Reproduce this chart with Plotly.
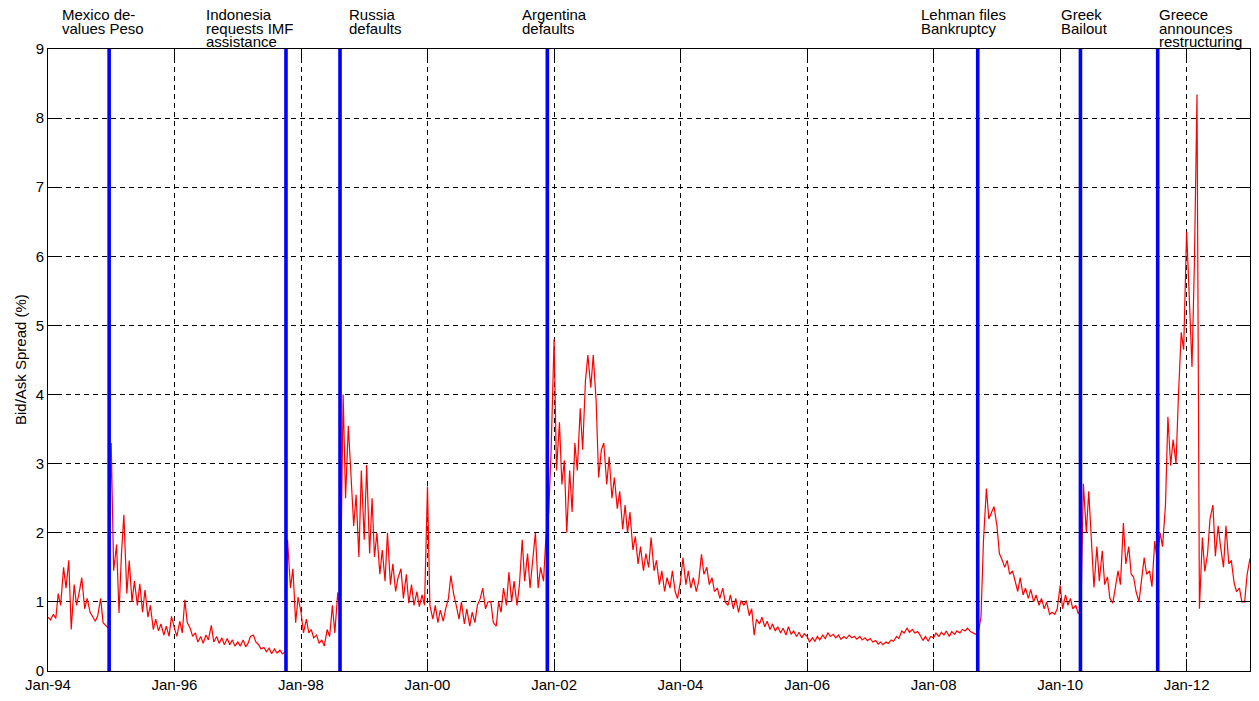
import pandas as pd
import plotly.graph_objects as go

# ---------------- data (semi-monthly readings: 1st and 15th of each month) ----------------
v1994 = [0.78, 0.74, 0.82, 0.76, 1.12, 0.95, 1.5, 1.2, 1.6, 0.6, 1.25, 0.95,
         1.15, 1.35, 0.9, 1.05, 0.85, 0.78, 0.72, 0.8, 1.05, 0.7, 0.65, 0.62]
v1995 = [3.3, 1.45, 1.83, 0.84, 1.69, 2.26, 1.12, 1.6, 1.0, 1.3, 0.95, 1.26,
         0.85, 1.17, 0.78, 0.95, 0.6, 0.75, 0.58, 0.68, 0.52, 0.65, 0.5, 0.79]
v1996 = [0.62, 0.5, 0.72, 0.55, 1.03, 0.7, 0.62, 0.5, 0.55, 0.42, 0.5, 0.4,
         0.52, 0.45, 0.66, 0.42, 0.5, 0.4, 0.48, 0.38, 0.47, 0.38, 0.45, 0.36]
v1997 = [0.42, 0.36, 0.45, 0.35, 0.4, 0.5, 0.52, 0.42, 0.38, 0.32, 0.34, 0.28,
         0.33, 0.25, 0.32, 0.26, 0.3, 0.25, 0.27, 1.9, 1.2, 1.48, 0.7, 1.07]
v1998 = [0.85, 0.55, 0.75, 0.55, 0.6, 0.48, 0.52, 0.4, 0.45, 0.36, 0.6, 0.5,
         0.95, 0.55, 1.14, 0.8, 4.0, 2.5, 3.55, 2.9, 2.1, 2.55, 1.65, 2.9]
v1999 = [1.9, 2.98, 1.7, 2.5, 1.65, 2.0, 1.4, 1.75, 1.3, 2.0, 1.25, 1.55,
         1.15, 1.35, 1.48, 1.05, 1.4, 0.98, 1.25, 0.95, 1.15, 0.93, 1.1, 0.95]
v2000 = [2.67, 0.95, 0.75, 0.95, 0.7, 0.88, 0.72, 0.9, 1.05, 1.38, 1.1, 0.95,
         0.75, 1.0, 0.68, 0.9, 0.65, 0.85, 0.7, 0.95, 1.05, 1.2, 0.9, 1.0]
v2001 = [1.0, 0.7, 0.65, 1.0, 0.85, 1.2, 0.95, 1.43, 1.0, 1.3, 0.95, 1.25,
         1.9, 1.3, 1.7, 1.2, 1.6, 2.0, 1.2, 1.5, 1.3, 1.95, 2.3, 3.2]
v2002 = [4.8, 2.9, 3.6, 2.7, 3.05, 2.0, 2.9, 2.3, 3.3, 2.9, 3.8, 3.2,
         4.2, 4.57, 4.1, 4.57, 3.9, 2.8, 3.2, 3.3, 2.7, 3.1, 2.5, 2.8]
v2003 = [2.35, 2.6, 2.05, 2.4, 2.0, 2.3, 1.75, 1.95, 1.55, 1.8, 1.45, 1.7,
         1.5, 1.93, 1.45, 1.6, 1.25, 1.45, 1.15, 1.35, 1.2, 1.45, 1.15, 1.05]
v2004 = [1.3, 1.64, 1.25, 1.45, 1.2, 1.35, 1.15, 1.3, 1.69, 1.4, 1.5, 1.25,
         1.35, 1.15, 1.2, 1.05, 1.2, 1.0, 0.95, 1.1, 0.9, 1.05, 0.85, 1.02]
v2005 = [0.95, 1.02, 0.8, 0.9, 0.52, 0.75, 0.68, 0.78, 0.64, 0.72, 0.6, 0.68,
         0.58, 0.64, 0.55, 0.62, 0.52, 0.64, 0.53, 0.58, 0.5, 0.56, 0.48, 0.54]
v2006 = [0.5, 0.42, 0.48, 0.43, 0.5, 0.45, 0.52, 0.47, 0.55, 0.5, 0.53, 0.48,
         0.52, 0.46, 0.5, 0.47, 0.52, 0.48, 0.5, 0.46, 0.5, 0.45, 0.48, 0.44]
v2007 = [0.47, 0.42, 0.44, 0.39, 0.42, 0.38, 0.42, 0.4, 0.45, 0.43, 0.5, 0.47,
         0.58, 0.55, 0.62, 0.56, 0.6, 0.55, 0.57, 0.52, 0.44, 0.5, 0.43, 0.5]
v2008 = [0.48, 0.55, 0.5, 0.56, 0.52, 0.58, 0.5, 0.57, 0.53, 0.58, 0.55, 0.6,
         0.58, 0.62, 0.57, 0.55, 0.53, 0.55, 0.79, 1.88, 2.64, 2.2, 2.3, 2.38]
v2009 = [2.1, 1.7, 1.6, 1.5, 1.6, 1.4, 1.45, 1.3, 1.15, 1.35, 1.1, 1.2,
         1.05, 1.18, 1.0, 1.1, 0.95, 1.05, 0.9, 1.0, 0.82, 0.85, 0.82, 0.9]
v2010 = [1.24, 0.9, 1.1, 0.95, 1.05, 0.9, 0.95, 0.83, 0.9, 2.71, 2.0, 2.6,
         1.75, 1.21, 1.8, 1.3, 1.74, 1.25, 1.36, 1.05, 0.98, 1.2, 1.45, 1.25]
v2011 = [2.14, 1.55, 1.8, 1.4, 1.36, 1.15, 1.0, 1.3, 1.64, 1.4, 1.45, 1.22,
         1.88, 1.6, 2.0, 1.8, 2.4, 3.68, 2.97, 3.35, 3.0, 4.0, 4.9, 4.65]
v2012 = [6.36, 5.5, 4.4, 5.9, 8.34, 0.9, 1.93, 1.44, 1.7, 2.2, 2.4, 1.66,
         2.1, 1.8, 1.5, 2.1, 1.55, 1.6, 1.28, 1.15, 1.2, 1.0, 1.0, 1.39]
v2013 = [1.63]

spread = (v1994 + v1995 + v1996 + v1997 + v1998 + v1999 + v2000 + v2001 + v2002 +
          v2003 + v2004 + v2005 + v2006 + v2007 + v2008 + v2009 + v2010 + v2011 +
          v2012 + v2013)
dates = pd.date_range("1994-01-01", periods=len(spread), freq="SMS")

event_dates = ["1994-12-20", "1997-10-06", "1998-08-14", "2001-11-23",
               "2008-09-12", "2010-04-28", "2011-07-18"]
event_labels = [["Mexico de-", "values Peso"],
                ["Indonesia", "requests IMF", "assistance"],
                ["Russia", "defaults"],
                ["Argentina", "defaults"],
                ["Lehman files", "Bankruptcy"],
                ["Greek", "Bailout"],
                ["Greece", "announces", "restructuring"]]

tick_vals = ["1994-01-01", "1996-01-01", "1998-01-01", "2000-01-01", "2002-01-01",
             "2004-01-01", "2006-01-01", "2008-01-01", "2010-01-01", "2012-01-01"]
tick_text = ["Jan-94", "Jan-96", "Jan-98", "Jan-00", "Jan-02",
             "Jan-04", "Jan-06", "Jan-08", "Jan-10", "Jan-12"]
y_ticks = [0, 1, 2, 3, 4, 5, 6, 7, 8, 9]

# ---------------- figure ----------------
FONT = "Liberation Sans, Arial, Helvetica, sans-serif"
W, H = 1259, 701
ML, MR, MT, MB = 48, 8, 49, 23
PW, PH = W - ML - MR, H - MT - MB

fig = go.Figure()
fig.add_trace(go.Scatter(x=dates, y=spread, mode="lines",
                         line=dict(color="#FF0000", width=1.2),
                         showlegend=False, hoverinfo="x+y"))

for d in event_dates:
    fig.add_shape(type="line", xref="x", yref="paper", x0=d, x1=d, y0=0, y1=1,
                  line=dict(color="#0000FF", width=3.6), layer="above")

label_left_px = [61, 205, 348, 521, 921, 1061, 1159]
line_center_px = [14, 28, 41.5]
annotations = []
for lines, px in zip(event_labels, label_left_px):
    for i, txt in enumerate(lines):
        annotations.append(dict(
            text=txt, xref="paper", yref="paper",
            x=(px - ML) / PW, y=(H - MB - line_center_px[i]) / PH,
            xanchor="left", yanchor="middle", showarrow=False, borderpad=0,
            font=dict(family=FONT, size=15, color="black")))

annotations.append(dict(
    text="Bid/Ask Spread (%)", xref="paper", yref="paper",
    x=(20 - ML) / PW, y=0.5, xanchor="center", yanchor="middle",
    textangle=-90, showarrow=False,
    font=dict(family=FONT, size=15, color="black")))

axis_common = dict(showline=True, linecolor="black", linewidth=1, mirror="ticks",
                   ticks="inside", ticklen=12, tickcolor="black", tickwidth=1,
                   showgrid=True, gridcolor="#000000", gridwidth=1, griddash="5px,4px",
                   zeroline=False, tickfont=dict(family=FONT, size=15, color="black"))

fig.update_layout(
    width=W, height=H,
    margin=dict(l=ML, r=MR, t=MT, b=MB, pad=0),
    paper_bgcolor="white", plot_bgcolor="white",
    font=dict(family=FONT, size=15, color="black"),
    xaxis=dict(type="date", range=["1994-01-01", "2013-01-01"],
               tickmode="array", tickvals=tick_vals, ticktext=tick_text,
               **axis_common),
    yaxis=dict(range=[0, 9], tickmode="array", tickvals=y_ticks,
               ticktext=[str(v) for v in y_ticks], **axis_common),
    annotations=annotations,
    showlegend=False,
)

fig.write_html("out.html")
